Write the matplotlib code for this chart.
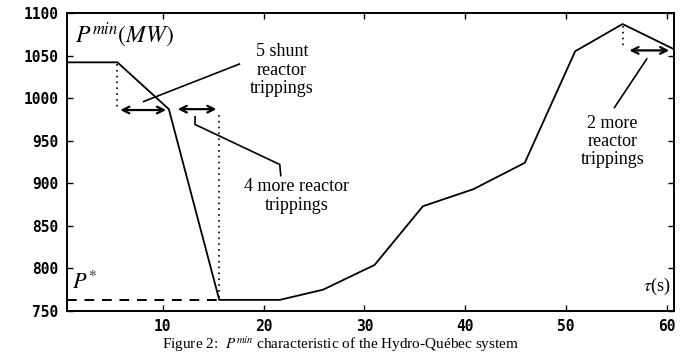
import matplotlib
matplotlib.use("Agg")
import matplotlib.pyplot as plt

plt.rcParams["mathtext.fontset"] = "stix"

# data
tau = [0.5, 5.5, 10.6, 15.6, 21.6, 25.9, 31.0, 35.8, 40.8, 45.9, 50.9, 55.6, 60.6]
pmin = [1042, 1042, 987, 763, 763, 775, 804, 873, 893, 924, 1055, 1087, 1058]
p_star = 763
x_ticks = [10, 20, 30, 40, 50, 60]
y_ticks = [750, 800, 850, 900, 950, 1000, 1050, 1100]

fig = plt.figure(figsize=(6.81, 3.57), dpi=100)
ax = fig.add_axes([0.0984, 0.129, 0.8913, 0.8347])
ax.set_xlim(0.5, 60.7)
ax.set_ylim(750, 1100)

ax.plot(tau, pmin, color="black", lw=1.3)
ax.plot([0.5, 15.6], [p_star, p_star], color="black", lw=1.4, ls=(0, (5, 4)))

# dotted verticals
ax.plot([5.5, 5.5], [1040, 988], color="black", lw=1.2, ls=(0, (1, 2.5)))
ax.plot([15.6, 15.6], [980, 765], color="black", lw=1.2, ls=(0, (1, 2.5)))
ax.plot([55.6, 55.6], [1085, 1060], color="black", lw=1.2, ls=(0, (1, 2.5)))

arrow = dict(arrowstyle="<->", color="black", lw=1.6, mutation_scale=12)
ax.annotate("", xy=(10.6, 986), xytext=(5.5, 986), arrowprops=arrow)
ax.annotate("", xy=(15.6, 987), xytext=(11.2, 987), arrowprops=arrow)
ax.annotate("", xy=(60.5, 1056), xytext=(56.0, 1056), arrowprops=arrow)

# leader lines
ax.plot([8.1, 17.6], [996, 1040], color="black", lw=1.2)
ax.plot([13.2, 13.2, 21.6, 21.7], [978, 969, 922, 909], color="black", lw=1.2)
ax.plot([58.0, 54.8], [1046, 989], color="black", lw=1.2)

serif = "Liberation Serif"
ax.text(21.8, 1033, "5 shunt\nreactor\ntrippings", ha="center", va="center",
        fontsize=13, family=serif, linespacing=1.1)
ax.text(23.3, 885, "4 more reactor\ntrippings", ha="center", va="center",
        fontsize=13, family=serif, linespacing=1.1)
ax.text(54.6, 949, "2 more\nreactor\ntrippings", ha="center", va="center",
        fontsize=13, family=serif, linespacing=1.1)
ax.text(1.3, 1074, r"$P^{min}(MW)$", ha="left", va="center", fontsize=17)
ax.text(1.0, 784, r"$P^{*}$", ha="left", va="center", fontsize=16)
ax.text(57.6, 779, r"$\tau$(s)", ha="left", va="center", fontsize=13, family=serif)

ax.set_xticks(x_ticks)
ax.set_yticks(y_ticks)
ax.tick_params(direction="in", length=4, width=1, top=True, right=True,
               labelsize=10.5, pad=6)
for lab in ax.get_xticklabels() + ax.get_yticklabels():
    lab.set_family("DejaVu Sans Mono")
    lab.set_fontweight("bold")
for s in ax.spines.values():
    s.set_linewidth(1.4)

fig.text(0.5, 0.008, "Figure 2:  $P^{min}$ characteristic of the Hydro-Québec system",
         ha="center", va="bottom", fontsize=11, family=serif)

fig.savefig("out.png", dpi=100)
